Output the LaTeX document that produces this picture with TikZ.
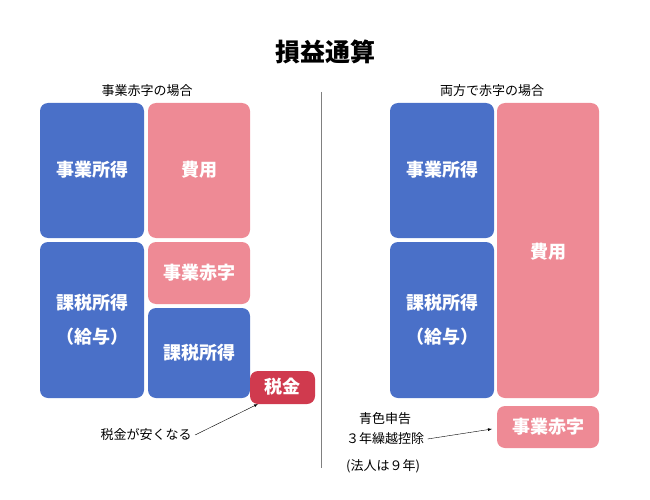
\documentclass[tikz,border=0pt]{standalone}
\usepackage{fontspec}
\setmainfont{Noto Sans CJK JP}
\definecolor{kblue}{HTML}{4A70C8}
\definecolor{kpink}{HTML}{EE8A95}
\definecolor{kred}{HTML}{D03A4E}
\tikzset{
  block/.style={text=white, font=\fontsize{18}{22}\selectfont\bfseries, align=center},
  note/.style={font=\fontsize{13}{20}\selectfont, align=center},
}
\begin{document}
\begin{tikzpicture}[x=1pt,y=-1pt]
        \useasboundingbox (0,0) rectangle (650,500);

        % Titel
        \node[font=\fontsize{25}{30}\selectfont\bfseries] (title) at (325,52) {損益通算};
        \draw[gray, line width=0.8pt] (321,92) -- (321,468);

        % Links
        \begin{scope}
            \node[note] (capL) at (147,91) {事業赤字の場合};
            \fill[kblue, rounded corners=8pt] (40,103) rectangle (144,238);
            \node[block] (jigyoL) at (92,170) {事業所得};
            \fill[kpink, rounded corners=8pt] (148,103) rectangle (250,238);
            \node[block] (hiyoL) at (199,170) {費用};
            \fill[kblue, rounded corners=8pt] (40,242) rectangle (144,398);
            \node[block] (kyuyoL) at (92,320) {課税所得\\[12pt]（給与）};
            \fill[kpink, rounded corners=8pt] (148,242) rectangle (250,304);
            \node[block] (akajiL) at (199,273) {事業赤字};
            \fill[kblue, rounded corners=8pt] (148,308) rectangle (250,398);
            \node[block] (kazeiL) at (199,353) {課税所得};
            \fill[kred, rounded corners=8pt] (250,371) rectangle (315,404);
            \node[block] (zeikin) at (282,387) {税金};
            \node[note] (yasuku) at (146,435) {税金が安くなる};
            \draw[-latex] (yasuku.east) -- (258,404);
        \end{scope}

        % Rechts
        \begin{scope}
            \node[note] (capR) at (492,91) {両方で赤字の場合};
            \fill[kblue, rounded corners=8pt] (390,103) rectangle (494,238);
            \node[block] (jigyoR) at (442,170) {事業所得};
            \fill[kblue, rounded corners=8pt] (390,242) rectangle (494,398);
            \node[block] (kyuyoR) at (442,320) {課税所得\\[12pt]（給与）};
            \fill[kpink, rounded corners=8pt] (497,103) rectangle (599,398);
            \node[block] (hiyoR) at (548,252) {費用};
            \fill[kpink, rounded corners=8pt] (497,406) rectangle (599,448);
            \node[block] (akajiR) at (548,427) {事業赤字};
            \node[note] (aoiro) at (385,429) {青色申告\\３年繰越控除};
            \node[note] (hojin) at (383,466) {(法人は９年)};
            \draw[-latex] (aoiro.east) ++(0,10) -- (492,429);
        \end{scope}
\end{tikzpicture}
\end{document}
